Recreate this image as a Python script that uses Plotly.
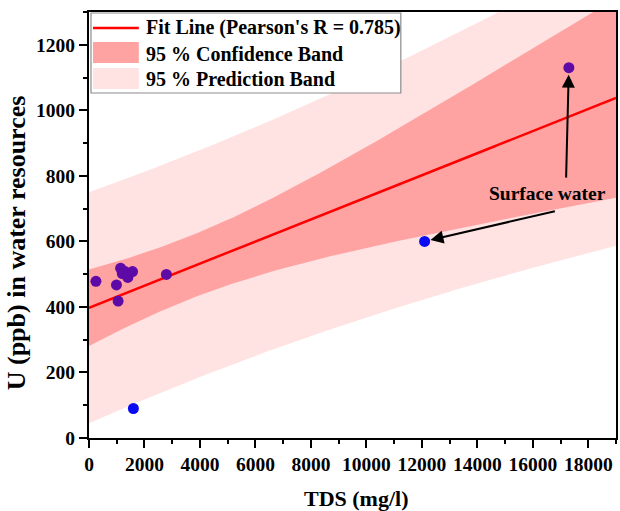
import numpy as np
import plotly.graph_objects as go

# Data (TDS mg/l, U ppb)
gw_tds = [250, 990, 1050, 1140, 1200, 1300, 1400, 1570, 2790, 17300]
gw_u = [478, 467, 418, 518, 502, 508, 490, 508, 499, 1130]
sw_tds = [1600, 12100]
sw_u = [90, 600]

x_ticks = [0, 2000, 4000, 6000, 8000, 10000, 12000, 14000, 16000, 18000]
y_ticks = [0, 200, 400, 600, 800, 1000, 1200]

legend_labels = ["Fit Line (Pearson's R = 0.785)", "95 % Confidence Band", "95 % Prediction Band"]
x_title = "TDS (mg/l)"
y_title = "U (ppb) in water resources"

# Linear regression with 95% bands
x = np.array(gw_tds + sw_tds, dtype=float)
y = np.array(gw_u + sw_u, dtype=float)
n = len(x)
xm, ym = x.mean(), y.mean()
sxx = ((x - xm) ** 2).sum()
sxy = ((x - xm) * (y - ym)).sum()
b = sxy / sxx
a = ym - b * xm
res = y - (a + b * x)
s = np.sqrt((res ** 2).sum() / (n - 2))
t_val = {9: 2.262, 10: 2.228, 11: 2.201}[n - 2]

xf = np.linspace(0, 19000, 200)
yf = a + b * xf
se_c = s * np.sqrt(1 / n + (xf - xm) ** 2 / sxx)
se_p = s * np.sqrt(1 + 1 / n + (xf - xm) ** 2 / sxx)
cu, cl = yf + t_val * se_c, yf - t_val * se_c
pu, pl = yf + t_val * se_p, yf - t_val * se_p

FONT = "Liberation Serif"
RED = "#FF0000"
CONF = "#FFA2A2"
PRED = "#FFE2E2"

fig = go.Figure()
fig.add_trace(go.Scatter(
    x=np.concatenate([xf, xf[::-1]]), y=np.concatenate([pu, pl[::-1]]),
    fill="toself", fillcolor=PRED, line=dict(width=0), mode="lines",
    showlegend=False, hoverinfo="skip"))
fig.add_trace(go.Scatter(
    x=np.concatenate([xf, xf[::-1]]), y=np.concatenate([cu, cl[::-1]]),
    fill="toself", fillcolor=CONF, line=dict(width=0), mode="lines",
    showlegend=False, hoverinfo="skip"))
fig.add_trace(go.Scatter(
    x=xf, y=yf, mode="lines", line=dict(color=RED, width=2.5), showlegend=False))
fig.add_trace(go.Scatter(
    x=gw_tds, y=gw_u, mode="markers", showlegend=False,
    marker=dict(color="#5E0AA6", size=11)))
fig.add_trace(go.Scatter(
    x=sw_tds, y=sw_u, mode="markers", showlegend=False,
    marker=dict(color="#0A0AF5", size=11)))

# annotations
fig.add_annotation(x=17300, y=1130, ax=17200, ay=790, axref="x", ayref="y",
                   text="", showarrow=True, arrowhead=2, arrowsize=1.3,
                   arrowwidth=2, arrowcolor="black", standoff=7)
fig.add_annotation(x=12100, y=600, ax=16850, ay=693, axref="x", ayref="y",
                   text="", showarrow=True, arrowhead=2, arrowsize=1.3,
                   arrowwidth=2, arrowcolor="black", standoff=6)
fig.add_annotation(x=16520, y=745, text="<b>Surface water</b>", showarrow=False,
                   font=dict(family=FONT, size=19.5, color="black"))

# pixel layout converted to paper coords of the plot area
ML, MR, MT, MB, W, H = 89, 2, 12, 73, 620, 511
PW, PH = W - ML - MR, H - MT - MB
def px(xp):
    return (xp - ML) / PW
def py(yp):
    return (H - MB - yp) / PH

# axis titles
fig.add_annotation(xref="paper", yref="paper", x=px(358), y=py(498),
                   xanchor="center", yanchor="middle", showarrow=False,
                   text=f"<b>{x_title}</b>", font=dict(family=FONT, size=22, color="black"))
fig.add_annotation(xref="paper", yref="paper", x=px(17), y=py(243),
                   xanchor="center", yanchor="middle", showarrow=False, textangle=-90,
                   text=f"<b>{y_title}</b>", font=dict(family=FONT, size=26, color="black"))

# manual legend
fig.add_shape(type="rect", xref="paper", yref="paper",
              x0=px(91), x1=px(402), y0=py(93), y1=py(13),
              fillcolor="white", line=dict(color="#8C8C8C", width=1.2))
fig.add_shape(type="line", xref="paper", yref="paper",
              x0=px(93), x1=px(139), y0=py(28), y1=py(28),
              line=dict(color=RED, width=2.5))
fig.add_shape(type="rect", xref="paper", yref="paper",
              x0=px(93), x1=px(139), y0=py(63), y1=py(42),
              fillcolor=CONF, line=dict(width=0))
fig.add_shape(type="rect", xref="paper", yref="paper",
              x0=px(93), x1=px(139), y0=py(89), y1=py(68),
              fillcolor=PRED, line=dict(width=0))
for lab, yy in zip(legend_labels, [28, 54, 79]):
    fig.add_annotation(xref="paper", yref="paper", x=px(144), y=py(yy),
                       xanchor="left", yanchor="middle", showarrow=False,
                       text=f"<b>{lab}</b>",
                       font=dict(family=FONT, size=20, color="black"))

axis_common = dict(
    showline=True, linecolor="black", linewidth=2, mirror=True,
    ticks="outside", tickwidth=2, ticklen=8, tickcolor="black",
    showgrid=False, zeroline=False,
    tickfont=dict(family=FONT, size=19.5, color="black"),
)
fig.update_xaxes(range=[0, 19000], tickvals=x_ticks,
                 ticktext=[f"<b>{v}</b>" for v in x_ticks],
                 minor=dict(dtick=1000, ticklen=4, tickwidth=2, tickcolor="black", ticks="outside"),
                 **axis_common)
fig.update_yaxes(range=[0, 1300], tickvals=y_ticks,
                 ticktext=[f"<b>{v}</b>" for v in y_ticks],
                 minor=dict(dtick=100, ticklen=4, tickwidth=2, tickcolor="black", ticks="outside"),
                 **axis_common)

fig.update_layout(
    width=W, height=H,
    margin=dict(l=ML, r=MR, t=MT, b=MB),
    plot_bgcolor="white", paper_bgcolor="white",
    showlegend=False,
)

fig.write_html("out.html")
